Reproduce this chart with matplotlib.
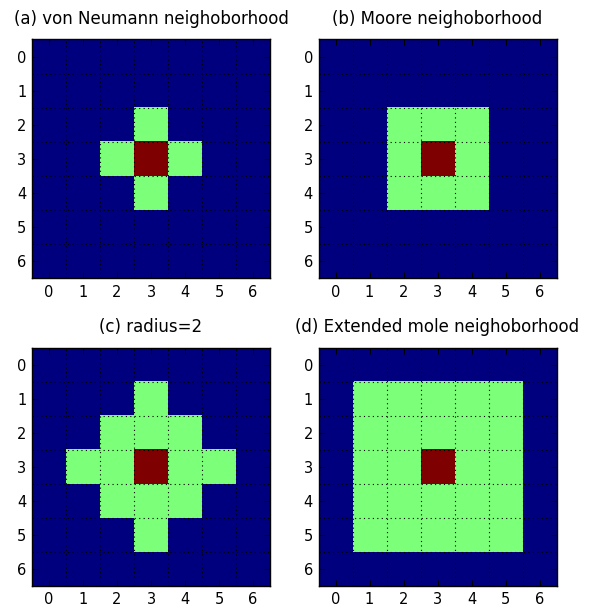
import numpy as np
import matplotlib
matplotlib.use("Agg")
import matplotlib.pyplot as plt

# Cell states: 0 = outside, 1 = neighbour, 2 = centre cell
von_neumann = [
    [0, 0, 0, 0, 0, 0, 0],
    [0, 0, 0, 0, 0, 0, 0],
    [0, 0, 0, 1, 0, 0, 0],
    [0, 0, 1, 2, 1, 0, 0],
    [0, 0, 0, 1, 0, 0, 0],
    [0, 0, 0, 0, 0, 0, 0],
    [0, 0, 0, 0, 0, 0, 0],
]
moore = [
    [0, 0, 0, 0, 0, 0, 0],
    [0, 0, 0, 0, 0, 0, 0],
    [0, 0, 1, 1, 1, 0, 0],
    [0, 0, 1, 2, 1, 0, 0],
    [0, 0, 1, 1, 1, 0, 0],
    [0, 0, 0, 0, 0, 0, 0],
    [0, 0, 0, 0, 0, 0, 0],
]
radius2 = [
    [0, 0, 0, 0, 0, 0, 0],
    [0, 0, 0, 1, 0, 0, 0],
    [0, 0, 1, 1, 1, 0, 0],
    [0, 1, 1, 2, 1, 1, 0],
    [0, 0, 1, 1, 1, 0, 0],
    [0, 0, 0, 1, 0, 0, 0],
    [0, 0, 0, 0, 0, 0, 0],
]
extended_moore = [
    [0, 0, 0, 0, 0, 0, 0],
    [0, 1, 1, 1, 1, 1, 0],
    [0, 1, 1, 1, 1, 1, 0],
    [0, 1, 1, 2, 1, 1, 0],
    [0, 1, 1, 1, 1, 1, 0],
    [0, 1, 1, 1, 1, 1, 0],
    [0, 0, 0, 0, 0, 0, 0],
]
titles = [
    "(a) von Neumann neighoborhood",
    "(b) Moore neighoborhood",
    "(c) radius=2",
    "(d) Extended mole neighoborhood",
]
grids = [von_neumann, moore, radius2, extended_moore]
ticks = list(range(7))

W, H = 589, 608
fig = plt.figure(figsize=(W / 100, H / 100), dpi=100, facecolor="white")

# axes boxes in pixels: (left, top, right, bottom)
boxes = [(32, 39.5, 270, 278.5), (318.5, 39.5, 556.5, 278.5),
         (32, 347.5, 270, 586), (318.5, 347.5, 556.5, 586)]

for grid, title, (l, t, r, b) in zip(grids, titles, boxes):
    ax = fig.add_axes([l / W, 1 - b / H, (r - l) / W, (b - t) / H])
    ax.imshow(np.array(grid), cmap="jet", vmin=0, vmax=2,
              interpolation="nearest", aspect="auto")
    ax.set_xticks(ticks)
    ax.set_yticks(ticks)
    ax.set_xticks(np.arange(-0.5, 7, 1), minor=True)
    ax.set_yticks(np.arange(-0.5, 7, 1), minor=True)
    ax.grid(which="minor", color="black", linestyle=(0, (1, 3)), linewidth=0.8)
    ax.tick_params(which="major", direction="in", length=4, width=0.8,
                   top=True, right=True, labelsize=10.5, colors="black")
    ax.tick_params(axis="x", which="major", pad=4.5)
    ax.tick_params(axis="y", which="major", pad=4)
    ax.tick_params(which="minor", length=0)
    for s in ax.spines.values():
        s.set_linewidth(1.0)
    ax.set_title(title, fontsize=12, pad=11.5)

fig.savefig("out.png", dpi=100, facecolor="white")
